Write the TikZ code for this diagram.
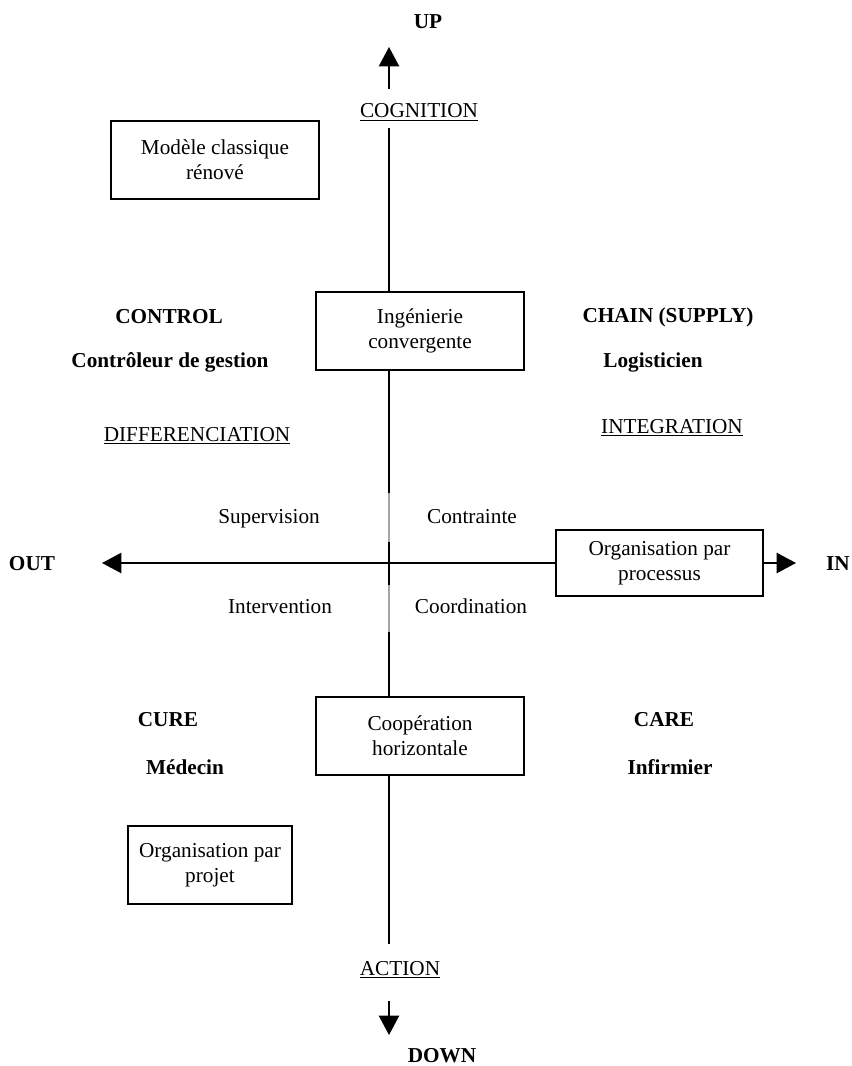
\documentclass[tikz,border=0pt]{standalone}
\usepackage{fontspec}
\setmainfont{Liberation Serif}
\usetikzlibrary{arrows.meta}
\begin{document}
\begin{tikzpicture}[x=0.565pt,y=-0.565pt,
  every node/.style={font=\fontsize{12}{14}\selectfont, inner sep=0pt},
  lbl/.style={anchor=base},
  bold/.style={anchor=base, font=\fontsize{12}{14}\selectfont\bfseries},
  framebox/.style={draw, line width=1pt, align=center, minimum height=78*0.565pt},
  axis/.style={line width=1pt},
  faint/.style={line width=0.6pt, black!35},
  axisarrow/.style={line width=1pt, -{Triangle[width=11.5pt,length=11pt]}}]
\useasboundingbox (0,0) rectangle (851,1066);

% vertical axis position
\coordinate (vx) at (389,0);

% boxes
\node[framebox, minimum width=208*0.565pt] (mod) at (215,160) {Modèle classique\\rénové};
\node[framebox, minimum width=208*0.565pt] (ing) at (420,331) {Ingénierie\\convergente};
\node[framebox, minimum width=207*0.565pt, minimum height=66*0.565pt] (proc) at (659.5,563) {Organisation par\\processus};
\node[framebox, minimum width=208*0.565pt] (coop) at (420,736) {Coopération\\horizontale};
\node[framebox, minimum width=164*0.565pt] (proj) at (210,865) {Organisation par\\projet};

% axis labels
\node[bold] (up) at (428,29) {UP};
\node[bold] (down) at (442,1062) {DOWN};
\node[bold] (out) at (32,570) {OUT};
\node[bold] (in) at (838,570) {IN};
\node[lbl] (cog) at (419,118) {\underline{COGNITION}};
\node[lbl] (act) at (400,975) {\underline{ACTION}};

% quadrant labels
\node[bold] (control) at (169,323) {CONTROL};
\node[bold] (controleur) at (170,367) {Contrôleur de gestion};
\node[bold] (chain) at (668,322) {CHAIN (SUPPLY)};
\node[bold] (logist) at (653,367) {Logisticien};
\node[lbl] (diff) at (197,441) {\underline{DIFFERENCIATION}};
\node[lbl] (integ) at (672,433) {\underline{INTEGRATION}};
\node[lbl] (superv) at (269,523) {Supervision};
\node[lbl] (contr) at (472,523) {Contrainte};
\node[lbl] (interv) at (280,613) {Intervention};
\node[lbl] (coord) at (471,613) {Coordination};
\node[bold] (cure) at (168,726) {CURE};
\node[bold] (medecin) at (185,774) {Médecin};
\node[bold] (care) at (664,726) {CARE};
\node[bold] (infirm) at (670,774) {Infirmier};

% vertical axis
\coordinate (uptail) at (389,89);
\coordinate (uptip) at (389,47);
\coordinate (vtop) at (389,128);
\coordinate (g1) at (389,493);
\coordinate (g2) at (389,542);
\coordinate (g3) at (389,585);
\coordinate (g4) at (389,632);
\coordinate (vbot) at (389,944);
\coordinate (dntail) at (389,1001);
\coordinate (dntip) at (389,1035);
\draw[axisarrow] (uptail) -- (uptip);
\draw[axis] (vtop) -- (ing.north -| vx);
\draw[axis] (ing.south -| vx) -- (g1);
\draw[faint] (g1) -- (g2);
\draw[axis] (g2) -- (g3);
\draw[faint] (g3) -- (g4);
\draw[axis] (g4) -- (coop.north -| vx);
\draw[axis] (coop.south -| vx) -- (vbot);
\draw[axisarrow] (dntail) -- (dntip);

% horizontal axis
\coordinate (outtip) at (102,563);
\coordinate (intip) at (796,563);
\draw[axisarrow] (proc.west) -- (outtip);
\draw[axisarrow] (proc.east) -- (intip);
\end{tikzpicture}
\end{document}
